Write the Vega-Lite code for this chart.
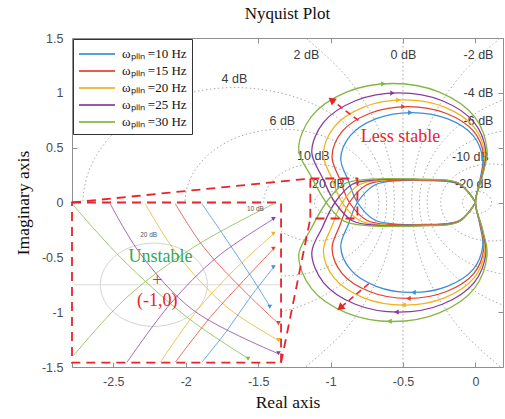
{
"$schema":"https://vega.github.io/schema/vega-lite/v6.json",
"width":431,"height":329,
"autosize":{"type":"none"},
"padding":{"left":72,"top":38,"right":2,"bottom":52},
"title":{"text":"Nyquist Plot","font":"Liberation Serif","fontSize":17,"fontWeight":"normal","color":"#111","anchor":"middle","frame":"group","baseline":"alphabetic","offset":16,"dy":20},
"datasets":{
"grid":[
{"c":"g20","i":0,"x":-0.909,"y":0},{"c":"g20","i":1,"x":-0.917,"y":0.039},{"c":"g20","i":2,"x":-0.939,"y":0.071},{"c":"g20","i":3,"x":-0.971,"y":0.093},{"c":"g20","i":4,"x":-1.01,"y":0.101},{"c":"g20","i":5,"x":-1.049,"y":0.093},{"c":"g20","i":6,"x":-1.081,"y":0.071},{"c":"g20","i":7,"x":-1.103,"y":0.039},{"c":"g20","i":8,"x":-1.111,"y":0},{"c":"g20","i":9,"x":-1.103,"y":-0.039},{"c":"g20","i":10,"x":-1.081,"y":-0.071},{"c":"g20","i":11,"x":-1.049,"y":-0.093},{"c":"g20","i":12,"x":-1.01,"y":-0.101},{"c":"g20","i":13,"x":-0.971,"y":-0.093},{"c":"g20","i":14,"x":-0.939,"y":-0.071},{"c":"g20","i":15,"x":-0.917,"y":-0.039},
{"c":"g10","i":0,"x":-0.76,"y":0},{"c":"g10","i":1,"x":-0.787,"y":0.134},{"c":"g10","i":2,"x":-0.863,"y":0.248},{"c":"g10","i":3,"x":-0.977,"y":0.324},{"c":"g10","i":4,"x":-1.111,"y":0.351},{"c":"g10","i":5,"x":-1.245,"y":0.324},{"c":"g10","i":6,"x":-1.359,"y":0.248},{"c":"g10","i":7,"x":-1.435,"y":0.134},{"c":"g10","i":8,"x":-1.462,"y":0},{"c":"g10","i":9,"x":-1.435,"y":-0.134},{"c":"g10","i":10,"x":-1.359,"y":-0.248},{"c":"g10","i":11,"x":-1.245,"y":-0.324},{"c":"g10","i":12,"x":-1.111,"y":-0.351},{"c":"g10","i":13,"x":-0.977,"y":-0.324},{"c":"g10","i":14,"x":-0.863,"y":-0.248},{"c":"g10","i":15,"x":-0.787,"y":-0.134},
{"c":"g6","i":0,"x":-0.667,"y":0},{"c":"g6","i":1,"x":-0.718,"y":0.256},{"c":"g6","i":2,"x":-0.863,"y":0.473},{"c":"g6","i":3,"x":-1.08,"y":0.618},{"c":"g6","i":4,"x":-1.336,"y":0.669},{"c":"g6","i":5,"x":-1.592,"y":0.618},{"c":"g6","i":6,"x":-1.809,"y":0.473},{"c":"g6","i":7,"x":-1.954,"y":0.256},{"c":"g6","i":8,"x":-2.005,"y":0},{"c":"g6","i":9,"x":-1.954,"y":-0.256},{"c":"g6","i":10,"x":-1.809,"y":-0.473},{"c":"g6","i":11,"x":-1.592,"y":-0.618},{"c":"g6","i":12,"x":-1.336,"y":-0.669},{"c":"g6","i":13,"x":-1.08,"y":-0.618},{"c":"g6","i":14,"x":-0.863,"y":-0.473},{"c":"g6","i":15,"x":-0.718,"y":-0.256},
{"c":"g4","i":0,"x":-0.613,"y":0},{"c":"g4","i":1,"x":-0.693,"y":0.401},{"c":"g4","i":2,"x":-0.92,"y":0.741},{"c":"g4","i":3,"x":-1.26,"y":0.968},{"c":"g4","i":4,"x":-1.661,"y":1.048},{"c":"g4","i":5,"x":-2.062,"y":0.968},{"c":"g4","i":6,"x":-2.402,"y":0.741},{"c":"g4","i":7,"x":-2.629,"y":0.401},{"c":"g4","i":8,"x":-2.709,"y":0},{"c":"g4","i":9,"x":-2.629,"y":-0.401},{"c":"g4","i":10,"x":-2.402,"y":-0.741},{"c":"g4","i":11,"x":-2.062,"y":-0.968},{"c":"g4","i":12,"x":-1.661,"y":-1.048},{"c":"g4","i":13,"x":-1.26,"y":-0.968},{"c":"g4","i":14,"x":-0.92,"y":-0.741},{"c":"g4","i":15,"x":-0.693,"y":-0.401},
{"c":"gm4","i":0,"x":1.709,"y":0},{"c":"gm4","i":1,"x":1.629,"y":0.401},{"c":"gm4","i":2,"x":1.402,"y":0.741},{"c":"gm4","i":3,"x":1.062,"y":0.968},{"c":"gm4","i":4,"x":0.661,"y":1.048},{"c":"gm4","i":5,"x":0.26,"y":0.968},{"c":"gm4","i":6,"x":-0.08,"y":0.741},{"c":"gm4","i":7,"x":-0.307,"y":0.401},{"c":"gm4","i":8,"x":-0.387,"y":0},{"c":"gm4","i":9,"x":-0.307,"y":-0.401},{"c":"gm4","i":10,"x":-0.08,"y":-0.741},{"c":"gm4","i":11,"x":0.26,"y":-0.968},{"c":"gm4","i":12,"x":0.661,"y":-1.048},{"c":"gm4","i":13,"x":1.062,"y":-0.968},{"c":"gm4","i":14,"x":1.402,"y":-0.741},{"c":"gm4","i":15,"x":1.629,"y":-0.401},
{"c":"gm6","i":0,"x":1.004,"y":0},{"c":"gm6","i":1,"x":0.953,"y":0.256},{"c":"gm6","i":2,"x":0.808,"y":0.473},{"c":"gm6","i":3,"x":0.591,"y":0.618},{"c":"gm6","i":4,"x":0.335,"y":0.669},{"c":"gm6","i":5,"x":0.079,"y":0.618},{"c":"gm6","i":6,"x":-0.138,"y":0.473},{"c":"gm6","i":7,"x":-0.283,"y":0.256},{"c":"gm6","i":8,"x":-0.334,"y":0},{"c":"gm6","i":9,"x":-0.283,"y":-0.256},{"c":"gm6","i":10,"x":-0.138,"y":-0.473},{"c":"gm6","i":11,"x":0.079,"y":-0.618},{"c":"gm6","i":12,"x":0.335,"y":-0.669},{"c":"gm6","i":13,"x":0.591,"y":-0.618},{"c":"gm6","i":14,"x":0.808,"y":-0.473},{"c":"gm6","i":15,"x":0.953,"y":-0.256},
{"c":"gm10","i":0,"x":0.462,"y":0},{"c":"gm10","i":1,"x":0.435,"y":0.134},{"c":"gm10","i":2,"x":0.359,"y":0.248},{"c":"gm10","i":3,"x":0.245,"y":0.324},{"c":"gm10","i":4,"x":0.111,"y":0.351},{"c":"gm10","i":5,"x":-0.023,"y":0.324},{"c":"gm10","i":6,"x":-0.137,"y":0.248},{"c":"gm10","i":7,"x":-0.213,"y":0.134},{"c":"gm10","i":8,"x":-0.24,"y":0},{"c":"gm10","i":9,"x":-0.213,"y":-0.134},{"c":"gm10","i":10,"x":-0.137,"y":-0.248},{"c":"gm10","i":11,"x":-0.023,"y":-0.324},{"c":"gm10","i":12,"x":0.111,"y":-0.351},{"c":"gm10","i":13,"x":0.245,"y":-0.324},{"c":"gm10","i":14,"x":0.359,"y":-0.248},{"c":"gm10","i":15,"x":0.435,"y":-0.134},
{"c":"gm20","i":0,"x":0.111,"y":0},{"c":"gm20","i":1,"x":0.103,"y":0.039},{"c":"gm20","i":2,"x":0.081,"y":0.071},{"c":"gm20","i":3,"x":0.049,"y":0.093},{"c":"gm20","i":4,"x":0.01,"y":0.101},{"c":"gm20","i":5,"x":-0.029,"y":0.093},{"c":"gm20","i":6,"x":-0.061,"y":0.071},{"c":"gm20","i":7,"x":-0.083,"y":0.039},{"c":"gm20","i":8,"x":-0.091,"y":0},{"c":"gm20","i":9,"x":-0.083,"y":-0.039},{"c":"gm20","i":10,"x":-0.061,"y":-0.071},{"c":"gm20","i":11,"x":-0.029,"y":-0.093},{"c":"gm20","i":12,"x":0.01,"y":-0.101},{"c":"gm20","i":13,"x":0.049,"y":-0.093},{"c":"gm20","i":14,"x":0.081,"y":-0.071},{"c":"gm20","i":15,"x":0.103,"y":-0.039}
],
"grid2":[
{"c":"g2","i":0,"x":-1.19,"y":-1.52},{"c":"g2","i":1,"x":-0.922,"y":-1.195},{"c":"g2","i":2,"x":-0.724,"y":-0.823},{"c":"g2","i":3,"x":-0.601,"y":-0.419},{"c":"g2","i":4,"x":-0.56,"y":0},{"c":"g2","i":5,"x":-0.601,"y":0.419},{"c":"g2","i":6,"x":-0.724,"y":0.823},{"c":"g2","i":7,"x":-0.922,"y":1.195},{"c":"g2","i":8,"x":-1.19,"y":1.52},
{"c":"gm2","i":0,"x":0.19,"y":-1.52},{"c":"gm2","i":1,"x":-0.078,"y":-1.195},{"c":"gm2","i":2,"x":-0.276,"y":-0.823},{"c":"gm2","i":3,"x":-0.399,"y":-0.419},{"c":"gm2","i":4,"x":-0.44,"y":0},{"c":"gm2","i":5,"x":-0.399,"y":0.419},{"c":"gm2","i":6,"x":-0.276,"y":0.823},{"c":"gm2","i":7,"x":-0.078,"y":1.195},{"c":"gm2","i":8,"x":0.19,"y":1.52}
],
"cur":[
{"s":"10","i":0,"x":0,"y":0},{"s":"10","i":1,"x":-0.04,"y":0.08},{"s":"10","i":2,"x":-0.11,"y":0.165},{"s":"10","i":3,"x":-0.2,"y":0.193},{"s":"10","i":4,"x":-0.35,"y":0.2},{"s":"10","i":5,"x":-0.515,"y":0.2},{"s":"10","i":6,"x":-0.695,"y":0.16},{"s":"10","i":7,"x":-0.815,"y":0},{"s":"10","i":8,"x":-0.878,"y":-0.2},{"s":"10","i":9,"x":-0.93,"y":-0.4},{"s":"10","i":10,"x":-0.864,"y":-0.61},{"s":"10","i":11,"x":-0.685,"y":-0.764},{"s":"10","i":12,"x":-0.44,"y":-0.82},{"s":"10","i":13,"x":-0.195,"y":-0.764},{"s":"10","i":14,"x":-0.016,"y":-0.61},{"s":"10","i":15,"x":0.05,"y":-0.4},{"s":"10","i":16,"x":0.03,"y":-0.2},{"s":"10","i":17,"x":0,"y":0},{"s":"10","i":18,"x":0.03,"y":0.2},{"s":"10","i":19,"x":0.05,"y":0.4},{"s":"10","i":20,"x":-0.016,"y":0.61},{"s":"10","i":21,"x":-0.195,"y":0.764},{"s":"10","i":22,"x":-0.44,"y":0.82},{"s":"10","i":23,"x":-0.685,"y":0.764},{"s":"10","i":24,"x":-0.864,"y":0.61},{"s":"10","i":25,"x":-0.93,"y":0.4},{"s":"10","i":26,"x":-0.878,"y":0.2},{"s":"10","i":27,"x":-0.815,"y":0},{"s":"10","i":28,"x":-0.695,"y":-0.16},{"s":"10","i":29,"x":-0.515,"y":-0.2},{"s":"10","i":30,"x":-0.35,"y":-0.2},{"s":"10","i":31,"x":-0.2,"y":-0.193},{"s":"10","i":32,"x":-0.11,"y":-0.165},{"s":"10","i":33,"x":-0.04,"y":-0.08},{"s":"10","i":34,"x":0,"y":0},
{"s":"15","i":0,"x":0,"y":0},{"s":"15","i":1,"x":-0.04,"y":0.08},{"s":"15","i":2,"x":-0.11,"y":0.167},{"s":"15","i":3,"x":-0.2,"y":0.196},{"s":"15","i":4,"x":-0.35,"y":0.203},{"s":"15","i":5,"x":-0.57,"y":0.203},{"s":"15","i":6,"x":-0.75,"y":0.162},{"s":"15","i":7,"x":-0.87,"y":0},{"s":"15","i":8,"x":-0.936,"y":-0.21},{"s":"15","i":9,"x":-0.99,"y":-0.42},{"s":"15","i":10,"x":-0.92,"y":-0.648},{"s":"15","i":11,"x":-0.728,"y":-0.814},{"s":"15","i":12,"x":-0.466,"y":-0.875},{"s":"15","i":13,"x":-0.204,"y":-0.814},{"s":"15","i":14,"x":-0.012,"y":-0.648},{"s":"15","i":15,"x":0.058,"y":-0.42},{"s":"15","i":16,"x":0.035,"y":-0.21},{"s":"15","i":17,"x":0,"y":0},{"s":"15","i":18,"x":0.035,"y":0.21},{"s":"15","i":19,"x":0.058,"y":0.42},{"s":"15","i":20,"x":-0.012,"y":0.648},{"s":"15","i":21,"x":-0.204,"y":0.814},{"s":"15","i":22,"x":-0.466,"y":0.875},{"s":"15","i":23,"x":-0.728,"y":0.814},{"s":"15","i":24,"x":-0.92,"y":0.648},{"s":"15","i":25,"x":-0.99,"y":0.42},{"s":"15","i":26,"x":-0.936,"y":0.21},{"s":"15","i":27,"x":-0.87,"y":0},{"s":"15","i":28,"x":-0.75,"y":-0.162},{"s":"15","i":29,"x":-0.57,"y":-0.203},{"s":"15","i":30,"x":-0.35,"y":-0.203},{"s":"15","i":31,"x":-0.2,"y":-0.196},{"s":"15","i":32,"x":-0.11,"y":-0.167},{"s":"15","i":33,"x":-0.04,"y":-0.08},{"s":"15","i":34,"x":0,"y":0},
{"s":"20","i":0,"x":0,"y":0},{"s":"20","i":1,"x":-0.04,"y":0.08},{"s":"20","i":2,"x":-0.11,"y":0.169},{"s":"20","i":3,"x":-0.2,"y":0.199},{"s":"20","i":4,"x":-0.35,"y":0.206},{"s":"20","i":5,"x":-0.62,"y":0.206},{"s":"20","i":6,"x":-0.8,"y":0.164},{"s":"20","i":7,"x":-0.92,"y":0},{"s":"20","i":8,"x":-0.992,"y":-0.22},{"s":"20","i":9,"x":-1.05,"y":-0.44},{"s":"20","i":10,"x":-0.976,"y":-0.688},{"s":"20","i":11,"x":-0.772,"y":-0.869},{"s":"20","i":12,"x":-0.493,"y":-0.935},{"s":"20","i":13,"x":-0.214,"y":-0.869},{"s":"20","i":14,"x":-0.01,"y":-0.688},{"s":"20","i":15,"x":0.065,"y":-0.44},{"s":"20","i":16,"x":0.039,"y":-0.22},{"s":"20","i":17,"x":0,"y":0},{"s":"20","i":18,"x":0.039,"y":0.22},{"s":"20","i":19,"x":0.065,"y":0.44},{"s":"20","i":20,"x":-0.01,"y":0.688},{"s":"20","i":21,"x":-0.214,"y":0.869},{"s":"20","i":22,"x":-0.493,"y":0.935},{"s":"20","i":23,"x":-0.772,"y":0.869},{"s":"20","i":24,"x":-0.976,"y":0.688},{"s":"20","i":25,"x":-1.05,"y":0.44},{"s":"20","i":26,"x":-0.992,"y":0.22},{"s":"20","i":27,"x":-0.92,"y":0},{"s":"20","i":28,"x":-0.8,"y":-0.164},{"s":"20","i":29,"x":-0.62,"y":-0.206},{"s":"20","i":30,"x":-0.35,"y":-0.206},{"s":"20","i":31,"x":-0.2,"y":-0.199},{"s":"20","i":32,"x":-0.11,"y":-0.169},{"s":"20","i":33,"x":-0.04,"y":-0.08},{"s":"20","i":34,"x":0,"y":0},
{"s":"25","i":0,"x":0,"y":0},{"s":"25","i":1,"x":-0.04,"y":0.08},{"s":"25","i":2,"x":-0.11,"y":0.171},{"s":"25","i":3,"x":-0.2,"y":0.202},{"s":"25","i":4,"x":-0.35,"y":0.209},{"s":"25","i":5,"x":-0.67,"y":0.209},{"s":"25","i":6,"x":-0.85,"y":0.166},{"s":"25","i":7,"x":-0.97,"y":0},{"s":"25","i":8,"x":-1.058,"y":-0.23},{"s":"25","i":9,"x":-1.13,"y":-0.46},{"s":"25","i":10,"x":-1.049,"y":-0.73},{"s":"25","i":11,"x":-0.829,"y":-0.928},{"s":"25","i":12,"x":-0.529,"y":-1.0},{"s":"25","i":13,"x":-0.229,"y":-0.928},{"s":"25","i":14,"x":-0.009,"y":-0.73},{"s":"25","i":15,"x":0.072,"y":-0.46},{"s":"25","i":16,"x":0.043,"y":-0.23},{"s":"25","i":17,"x":0,"y":0},{"s":"25","i":18,"x":0.043,"y":0.23},{"s":"25","i":19,"x":0.072,"y":0.46},{"s":"25","i":20,"x":-0.009,"y":0.73},{"s":"25","i":21,"x":-0.229,"y":0.928},{"s":"25","i":22,"x":-0.529,"y":1.0},{"s":"25","i":23,"x":-0.829,"y":0.928},{"s":"25","i":24,"x":-1.049,"y":0.73},{"s":"25","i":25,"x":-1.13,"y":0.46},{"s":"25","i":26,"x":-1.058,"y":0.23},{"s":"25","i":27,"x":-0.97,"y":0},{"s":"25","i":28,"x":-0.85,"y":-0.166},{"s":"25","i":29,"x":-0.67,"y":-0.209},{"s":"25","i":30,"x":-0.35,"y":-0.209},{"s":"25","i":31,"x":-0.2,"y":-0.202},{"s":"25","i":32,"x":-0.11,"y":-0.171},{"s":"25","i":33,"x":-0.04,"y":-0.08},{"s":"25","i":34,"x":0,"y":0},
{"s":"30","i":0,"x":0,"y":0},{"s":"30","i":1,"x":-0.04,"y":0.08},{"s":"30","i":2,"x":-0.11,"y":0.173},{"s":"30","i":3,"x":-0.2,"y":0.205},{"s":"30","i":4,"x":-0.35,"y":0.212},{"s":"30","i":5,"x":-0.73,"y":0.212},{"s":"30","i":6,"x":-0.91,"y":0.168},{"s":"30","i":7,"x":-1.03,"y":0},{"s":"30","i":8,"x":-1.135,"y":-0.24},{"s":"30","i":9,"x":-1.22,"y":-0.48},{"s":"30","i":10,"x":-1.133,"y":-0.783},{"s":"30","i":11,"x":-0.895,"y":-1.004},{"s":"30","i":12,"x":-0.57,"y":-1.085},{"s":"30","i":13,"x":-0.245,"y":-1.004},{"s":"30","i":14,"x":-0.007,"y":-0.783},{"s":"30","i":15,"x":0.08,"y":-0.48},{"s":"30","i":16,"x":0.048,"y":-0.24},{"s":"30","i":17,"x":0,"y":0},{"s":"30","i":18,"x":0.048,"y":0.24},{"s":"30","i":19,"x":0.08,"y":0.48},{"s":"30","i":20,"x":-0.007,"y":0.783},{"s":"30","i":21,"x":-0.245,"y":1.004},{"s":"30","i":22,"x":-0.57,"y":1.085},{"s":"30","i":23,"x":-0.895,"y":1.004},{"s":"30","i":24,"x":-1.133,"y":0.783},{"s":"30","i":25,"x":-1.22,"y":0.48},{"s":"30","i":26,"x":-1.135,"y":0.24},{"s":"30","i":27,"x":-1.03,"y":0},{"s":"30","i":28,"x":-0.91,"y":-0.168},{"s":"30","i":29,"x":-0.73,"y":-0.212},{"s":"30","i":30,"x":-0.35,"y":-0.212},{"s":"30","i":31,"x":-0.2,"y":-0.205},{"s":"30","i":32,"x":-0.11,"y":-0.173},{"s":"30","i":33,"x":-0.04,"y":-0.08},{"s":"30","i":34,"x":0,"y":0}
],
"mk":[
{"s":"10","p":"t","x":-0.449,"y":0.82},{"s":"15","p":"t","x":-0.497,"y":0.874},{"s":"20","p":"t","x":-0.532,"y":0.934},{"s":"25","p":"t","x":-0.573,"y":0.998},{"s":"30","p":"t","x":-0.635,"y":1.082},
{"s":"10","p":"b","x":-0.428,"y":-0.82},{"s":"15","p":"b","x":-0.463,"y":-0.875},{"s":"20","p":"b","x":-0.497,"y":-0.934},{"s":"25","p":"b","x":-0.546,"y":-0.999},{"s":"30","p":"b","x":-0.594,"y":-1.083}
],
"ins":[
{"s":"30","l":"d","i":0,"x":-2.774,"y":-0.027},{"s":"30","l":"d","i":1,"x":-2.452,"y":-0.498},{"s":"30","l":"d","i":2,"x":-1.991,"y":-1.046},{"s":"30","l":"d","i":3,"x":-1.566,"y":-1.425},
{"s":"25","l":"d","i":0,"x":-2.521,"y":-0.012},{"s":"25","l":"d","i":1,"x":-2.313,"y":-0.468},{"s":"25","l":"d","i":2,"x":-1.945,"y":-0.985},{"s":"25","l":"d","i":3,"x":-1.358,"y":-1.38},
{"s":"20","l":"d","i":0,"x":-2.279,"y":-0.012},{"s":"20","l":"d","i":1,"x":-2.061,"y":-0.468},{"s":"20","l":"d","i":2,"x":-1.715,"y":-0.954},{"s":"20","l":"d","i":3,"x":-1.358,"y":-1.258},
{"s":"15","l":"d","i":0,"x":-2.072,"y":-0.012},{"s":"15","l":"d","i":1,"x":-1.876,"y":-0.407},{"s":"15","l":"d","i":2,"x":-1.577,"y":-0.832},{"s":"15","l":"d","i":3,"x":-1.358,"y":-1.106},
{"s":"10","l":"d","i":0,"x":-1.888,"y":-0.012},{"s":"10","l":"d","i":1,"x":-1.715,"y":-0.346},{"s":"10","l":"d","i":2,"x":-1.531,"y":-0.711},{"s":"10","l":"d","i":3,"x":-1.416,"y":-0.954},
{"s":"30","l":"a","i":0,"x":-2.774,"y":-1.395},{"s":"30","l":"a","i":1,"x":-2.405,"y":-0.863},{"s":"30","l":"a","i":2,"x":-1.945,"y":-0.407},{"s":"30","l":"a","i":3,"x":-1.393,"y":-0.012},
{"s":"25","l":"a","i":0,"x":-2.405,"y":-1.456},{"s":"25","l":"a","i":1,"x":-2.106,"y":-0.924},{"s":"25","l":"a","i":2,"x":-1.784,"y":-0.498},{"s":"25","l":"a","i":3,"x":-1.393,"y":-0.149},
{"s":"20","l":"a","i":0,"x":-2.175,"y":-1.456},{"s":"20","l":"a","i":1,"x":-1.922,"y":-0.985},{"s":"20","l":"a","i":2,"x":-1.669,"y":-0.62},{"s":"20","l":"a","i":3,"x":-1.393,"y":-0.286},
{"s":"15","l":"a","i":0,"x":-2.072,"y":-1.456},{"s":"15","l":"a","i":1,"x":-1.83,"y":-1.046},{"s":"15","l":"a","i":2,"x":-1.6,"y":-0.711},{"s":"15","l":"a","i":3,"x":-1.393,"y":-0.422},
{"s":"10","l":"a","i":0,"x":-1.888,"y":-1.456},{"s":"10","l":"a","i":1,"x":-1.715,"y":-1.167},{"s":"10","l":"a","i":2,"x":-1.554,"y":-0.863},{"s":"10","l":"a","i":3,"x":-1.393,"y":-0.59}
],
"im":[
{"s":"10","x":-1.42,"y":-0.95},{"s":"15","x":-1.36,"y":-1.1},{"s":"20","x":-1.36,"y":-1.255},{"s":"25","x":-1.36,"y":-1.375},{"s":"30","x":-1.57,"y":-1.425},
{"s":"25","x":-1.395,"y":-0.15},{"s":"20","x":-1.395,"y":-0.286},{"s":"15","x":-1.395,"y":-0.422},{"s":"10","x":-1.395,"y":-0.59}
],
"ic":[
{"i":0,"x":-1.85,"y":-0.75},{"i":1,"x":-1.9,"y":-0.56},{"i":2,"x":-2.035,"y":-0.421},{"i":3,"x":-2.22,"y":-0.37},{"i":4,"x":-2.405,"y":-0.421},{"i":5,"x":-2.54,"y":-0.56},{"i":6,"x":-2.59,"y":-0.75},{"i":7,"x":-2.54,"y":-0.94},{"i":8,"x":-2.405,"y":-1.079},{"i":9,"x":-2.22,"y":-1.13},{"i":10,"x":-2.035,"y":-1.079},{"i":11,"x":-1.9,"y":-0.94}
],
"dbl":[
{"t":"2 dB","x":-1.167,"y":1.349},{"t":"0 dB","x":-0.497,"y":1.349},{"t":"-2 dB","x":0.021,"y":1.349},{"t":"4 dB","x":-1.664,"y":1.13},{"t":"-4 dB","x":0.021,"y":1.003},{"t":"6 dB","x":-1.333,"y":0.747},{"t":"-6 dB","x":0.021,"y":0.747},{"t":"10 dB","x":-1.119,"y":0.428},{"t":"-10 dB","x":-0.035,"y":0.419},{"t":"20 dB","x":-1.015,"y":0.173},{"t":"-20 dB","x":-0.014,"y":0.173}
],
"arw":[
{"a":"u","i":0,"x":-0.808,"y":0.748},{"a":"u","i":1,"x":-0.994,"y":0.935},{"a":"d","i":0,"x":-0.737,"y":-0.741},{"a":"d","i":1,"x":-0.934,"y":-0.961}
],
"con":[
{"k":"a","i":0,"x":-2.785,"y":0},{"k":"a","i":1,"x":-1.14,"y":0.219},{"k":"b","i":0,"x":-1.342,"y":-1.461},{"k":"b","i":1,"x":-1.14,"y":-0.146}
]
},
"layer":[
{"layer":[
{"data":{"name":"grid"},"mark":{"type":"line","interpolate":"cardinal-closed","stroke":"#a9a9a9","strokeWidth":1,"strokeDash":[1.5,2.5],"clip":true},
 "encoding":{"x":{"field":"x","type":"quantitative","scale":{"domain":[-2.785,0.19],"nice":false,"zero":false},
   "axis":{"values":[-2.5,-2,-1.5,-1,-0.5,0],"labelExpr":"'' + datum.value","title":"Real axis","tickSize":-5,"labelPadding":13,"titlePadding":6}},
  "y":{"field":"y","type":"quantitative","scale":{"domain":[-1.5,1.5],"nice":false,"zero":false},
   "axis":{"values":[-1.5,-1,-0.5,0,0.5,1,1.5],"labelExpr":"'' + datum.value","title":"Imaginary axis","tickSize":-5,"labelPadding":14,"titlePadding":9}},
  "detail":{"field":"c"},"order":{"field":"i","type":"quantitative"}}},
{"data":{"name":"grid2"},"mark":{"type":"line","interpolate":"cardinal","stroke":"#a9a9a9","strokeWidth":1,"strokeDash":[1.5,2.5],"clip":true},
 "encoding":{"x":{"field":"x","type":"quantitative"},"y":{"field":"y","type":"quantitative"},"detail":{"field":"c"},"order":{"field":"i","type":"quantitative"}}},
{"data":{"values":[{"x":-0.5}]},"mark":{"type":"rule","stroke":"#a9a9a9","strokeWidth":1,"strokeDash":[1.5,2.5]},"encoding":{"x":{"field":"x","type":"quantitative"}}},
{"data":{"name":"dbl"},"mark":{"type":"text","font":"Liberation Sans","fontSize":12.5,"color":"#3c3c3c","align":"center","baseline":"middle"},
 "encoding":{"x":{"field":"x","type":"quantitative"},"y":{"field":"y","type":"quantitative"},"text":{"field":"t"}}},
{"data":{"values":[{"x":-2.785,"x2":-1.342,"y":-1.461,"y2":0}]},"mark":{"type":"rect","fill":"white","stroke":"#e8232a","strokeWidth":1.8,"strokeDash":[9,6]},
 "encoding":{"x":{"field":"x","type":"quantitative"},"x2":{"field":"x2"},"y":{"field":"y","type":"quantitative"},"y2":{"field":"y2"}}},
{"data":{"name":"ic"},"mark":{"type":"line","interpolate":"cardinal-closed","stroke":"#d4d4d4","strokeWidth":1},
 "encoding":{"x":{"field":"x","type":"quantitative"},"y":{"field":"y","type":"quantitative"},"order":{"field":"i","type":"quantitative"}}},
{"data":{"values":[{"x":-2.77,"x2":-1.35,"y":-0.75}]},"mark":{"type":"rule","stroke":"#dadada","strokeWidth":1},
 "encoding":{"x":{"field":"x","type":"quantitative"},"x2":{"field":"x2"},"y":{"field":"y","type":"quantitative"}}},
{"data":{"name":"cur"},"mark":{"type":"line","interpolate":"catmull-rom","strokeWidth":1.3,"clip":true},
 "encoding":{"x":{"field":"x","type":"quantitative"},"y":{"field":"y","type":"quantitative"},
  "color":{"field":"s","type":"nominal","scale":{"domain":["10","15","20","25","30"],"range":["#3b8fd6","#e2412d","#f0b21c","#883c9c","#84b642"]},
   "legend":{"title":null,"orient":"top-left","offset":1,"symbolType":"M-1,0H3","symbolSize":324,"symbolStrokeWidth":2,"labelOffset":24,"labelFont":"Liberation Serif","labelFontSize":13,"labelColor":"#111","strokeColor":"#333","fillColor":"white","padding":5,"rowPadding":-1.5,"labelExpr":"'ωₚₗₗₙ =' + datum.label + ' Hz'"}},
  "order":{"field":"i","type":"quantitative"}}},
{"data":{"name":"ins"},"mark":{"type":"line","interpolate":"catmull-rom","strokeWidth":0.9,"opacity":0.85},
 "encoding":{"x":{"field":"x","type":"quantitative"},"y":{"field":"y","type":"quantitative"},
  "color":{"field":"s","type":"nominal","legend":{"title":null,"orient":"top-left","offset":1,"symbolType":"M-1,0H3","symbolSize":324,"symbolStrokeWidth":2,"labelOffset":24,"labelFont":"Liberation Serif","labelFontSize":13,"labelColor":"#111","strokeColor":"#333","fillColor":"white","padding":5,"rowPadding":-1.5,"labelExpr":"'ωₚₗₗₙ =' + datum.label + ' Hz'"}},
  "detail":{"field":"l"},"order":{"field":"i","type":"quantitative"}}},
{"data":{"name":"im"},"mark":{"type":"point","shape":"triangle-down","filled":true,"size":22,"opacity":1},
 "encoding":{"x":{"field":"x","type":"quantitative"},"y":{"field":"y","type":"quantitative"},
  "color":{"field":"s","type":"nominal","legend":{"title":null,"orient":"top-left","offset":1,"symbolType":"M-1,0H3","symbolSize":324,"symbolStrokeWidth":2,"labelOffset":24,"labelFont":"Liberation Serif","labelFontSize":13,"labelColor":"#111","strokeColor":"#333","fillColor":"white","padding":5,"rowPadding":-1.5,"labelExpr":"'ωₚₗₗₙ =' + datum.label + ' Hz'"}}}},
{"data":{"name":"mk"},"transform":[{"filter":"datum.p == 't'"}],"mark":{"type":"point","shape":"triangle-right","filled":true,"size":28,"opacity":1},
 "encoding":{"x":{"field":"x","type":"quantitative"},"y":{"field":"y","type":"quantitative"},
  "color":{"field":"s","type":"nominal","legend":{"title":null,"orient":"top-left","offset":1,"symbolType":"M-1,0H3","symbolSize":324,"symbolStrokeWidth":2,"labelOffset":24,"labelFont":"Liberation Serif","labelFontSize":13,"labelColor":"#111","strokeColor":"#333","fillColor":"white","padding":5,"rowPadding":-1.5,"labelExpr":"'ωₚₗₗₙ =' + datum.label + ' Hz'"}}}},
{"data":{"name":"mk"},"transform":[{"filter":"datum.p == 'b'"}],"mark":{"type":"point","shape":"triangle-left","filled":true,"size":28,"opacity":1},
 "encoding":{"x":{"field":"x","type":"quantitative"},"y":{"field":"y","type":"quantitative"},
  "color":{"field":"s","type":"nominal","legend":{"title":null,"orient":"top-left","offset":1,"symbolType":"M-1,0H3","symbolSize":324,"symbolStrokeWidth":2,"labelOffset":24,"labelFont":"Liberation Serif","labelFontSize":13,"labelColor":"#111","strokeColor":"#333","fillColor":"white","padding":5,"rowPadding":-1.5,"labelExpr":"'ωₚₗₗₙ =' + datum.label + ' Hz'"}}}},
{"data":{"values":[{"x":-1.14,"x2":-0.815,"y":-0.146,"y2":0.219}]},"mark":{"type":"rect","fill":null,"fillOpacity":0,"stroke":"#e8232a","strokeWidth":1.8,"strokeDash":[9,6]},
 "encoding":{"x":{"field":"x","type":"quantitative"},"x2":{"field":"x2"},"y":{"field":"y","type":"quantitative"},"y2":{"field":"y2"}}},
{"data":{"name":"con"},"mark":{"type":"line","stroke":"#e8232a","strokeWidth":1.8,"strokeDash":[9,6],"clip":true},
 "encoding":{"x":{"field":"x","type":"quantitative"},"y":{"field":"y","type":"quantitative"},"detail":{"field":"k"},"order":{"field":"i","type":"quantitative"}}},
{"data":{"name":"arw"},"mark":{"type":"line","stroke":"#e8232a","strokeWidth":1.6,"strokeDash":[6,4]},
 "encoding":{"x":{"field":"x","type":"quantitative"},"y":{"field":"y","type":"quantitative"},"detail":{"field":"a"},"order":{"field":"i","type":"quantitative"}}},
{"data":{"values":[{"x":-0.994,"y":0.935}]},"mark":{"type":"point","shape":"triangle-up","filled":true,"size":70,"color":"#e8232a","opacity":1,"angle":307},
 "encoding":{"x":{"field":"x","type":"quantitative"},"y":{"field":"y","type":"quantitative"}}},
{"data":{"values":[{"x":-0.934,"y":-0.961}]},"mark":{"type":"point","shape":"triangle-up","filled":true,"size":70,"color":"#e8232a","opacity":1,"angle":229},
 "encoding":{"x":{"field":"x","type":"quantitative"},"y":{"field":"y","type":"quantitative"}}},
{"data":{"values":[{"t":"Less stable","x":-0.518,"y":0.593},{"t":"+","x":-2.196,"y":-0.715},{"t":"(-1,0)","x":-2.196,"y":-0.9}]},"mark":{"type":"text","font":"Liberation Serif","fontSize":18,"color":"#e8232a","align":"center","baseline":"middle"},
 "encoding":{"x":{"field":"x","type":"quantitative"},"y":{"field":"y","type":"quantitative"},"text":{"field":"t"}}},
{"data":{"values":[{"t":"Unstable","x":-2.175,"y":-0.501}]},"mark":{"type":"text","font":"Liberation Serif","fontSize":18,"color":"#2fa85a","align":"center","baseline":"middle"},
 "encoding":{"x":{"field":"x","type":"quantitative"},"y":{"field":"y","type":"quantitative"},"text":{"field":"t"}}},
{"data":{"values":[{"t":"20 dB","x":-2.256,"y":-0.3},{"t":"10 dB","x":-1.519,"y":-0.058}]},"mark":{"type":"text","font":"Liberation Sans","fontSize":6.5,"color":"#555","align":"center","baseline":"middle"},
 "encoding":{"x":{"field":"x","type":"quantitative"},"y":{"field":"y","type":"quantitative"},"text":{"field":"t"}}}
]},
{"data":{"values":[{"x":0,"y":0}]},"mark":{"type":"point","opacity":0},
 "encoding":{"x":{"field":"x","type":"quantitative","axis":{"orient":"top","labels":false,"title":null,"values":[-2.5,-2,-1.5,-1,-0.5,0],"tickSize":-5,"minExtent":0,"maxExtent":0}},
  "y":{"field":"y","type":"quantitative","axis":{"orient":"right","labels":false,"title":null,"values":[-1.5,-1,-0.5,0,0.5,1,1.5],"tickSize":-5,"minExtent":0,"maxExtent":0}}}}
],
"resolve":{"axis":{"x":"independent","y":"independent"}},
"config":{
 "view":{"stroke":"#8f8f8f","strokeWidth":1},
 "axis":{"domain":false,"grid":false,"labelFont":"Liberation Sans","labelFontSize":12.5,"labelColor":"#4d4d4d","titleFont":"Liberation Serif","titleFontSize":17.5,"titleFontWeight":"normal","titleColor":"#111","tickColor":"#8f8f8f"}
}
}
